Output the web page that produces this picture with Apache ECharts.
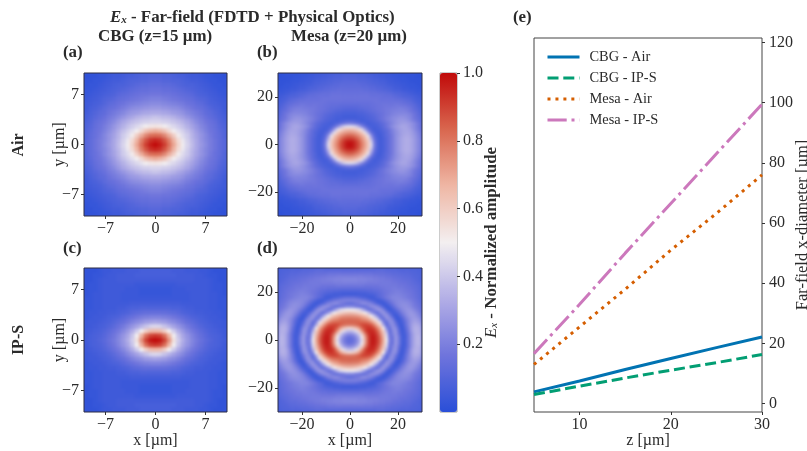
<!DOCTYPE html>
<html>
<head>
<meta charset="utf-8">
<script src="https://cdn.jsdelivr.net/npm/echarts@6/dist/echarts.min.js"></script>
<style>
html,body{margin:0;padding:0;background:#fff}
#c{width:807px;height:451px}
/* the heatmap layer (zlevel 0) is softened, like an image shown with smooth interpolation, and trimmed to the four panels */
#c canvas[data-zr-dom-id="zr_0"]{
  background:#3a58d6;
  filter:blur(1.7px);
  clip-path:path('M84 73H227V216H84Z M278 73H422V216H278Z M84 268H227V412H84Z M278 268H422V412H278Z');
}
</style>
</head>
<body>
<div id="c"></div>
<script>
// Amplitude in percent, one quadrant (row = outward in y, column = outward in x).
const panelA = [
[100,97,91,81,70,58,49,43,37,31,27,23,19,16,13,11],
[95,93,87,78,67,56,48,42,36,31,26,22,19,16,13,11],
[83,82,77,69,60,51,45,41,35,30,26,22,18,15,13,10],
[69,67,63,56,50,46,42,38,33,28,24,20,17,15,12,10],
[53,52,50,47,44,41,38,34,30,26,22,19,16,14,11,9],
[43,43,42,41,39,37,34,31,27,23,20,17,15,13,10,8],
[39,38,37,36,34,31,29,26,23,20,18,15,13,11,9,7],
[32,32,31,30,28,27,25,22,20,18,16,13,12,10,8,6],
[27,27,26,25,24,23,21,19,17,15,14,12,10,8,7,5],
[23,23,22,21,20,19,18,16,15,13,12,10,8,7,6,5],
[20,20,19,18,17,16,15,14,13,11,10,9,7,6,5,4],
[17,17,16,16,15,14,13,12,11,9,8,7,6,5,4,3],
[15,15,14,14,13,12,11,10,9,8,7,6,5,4,3,3],
[13,13,12,12,11,10,9,8,8,7,6,5,4,3,3,2],
[11,11,10,10,9,9,8,7,6,6,5,4,3,3,2,2],
[10,10,9,9,8,7,7,6,5,5,4,3,3,2,2,1]];
const panelB = [
[100,98,93,87,79,71,62,45,20,9,6,8,11,15,19,24,28,31,33,33,31,28,24,20],
[98,97,92,86,77,70,61,42,18,9,6,8,11,15,19,24,28,31,33,33,31,28,24,20],
[91,90,87,81,74,67,57,34,15,8,6,8,11,15,19,24,28,31,33,33,31,28,24,20],
[84,83,79,75,69,62,47,25,11,7,6,9,12,15,19,24,27,30,32,32,30,27,23,19],
[74,73,71,67,61,47,30,14,9,6,7,9,12,16,20,24,27,30,31,31,29,26,22,18],
[65,64,61,56,45,29,15,9,6,7,8,11,13,17,21,25,28,30,31,30,28,24,20,16],
[47,46,42,33,22,14,9,7,7,8,10,12,16,20,24,27,29,31,31,29,26,23,19,15],
[20,19,16,13,10,8,6,7,8,9,11,13,16,19,22,25,27,29,29,28,26,23,19,15],
[9,9,8,7,6,7,8,9,10,12,14,16,19,21,23,25,27,27,27,25,22,19,16,13],
[6,6,6,7,7,8,9,10,11,13,15,17,19,21,23,24,25,26,25,23,21,17,15,12],
[7,7,7,8,8,9,10,11,12,14,15,16,18,19,21,22,23,23,23,22,20,17,14,11],
[9,9,9,10,10,11,12,13,14,15,16,17,18,19,20,21,21,21,21,19,17,15,13,10],
[11,11,11,12,12,13,13,14,15,16,16,17,18,18,19,19,20,20,19,18,16,13,11,9],
[13,13,13,13,14,14,14,15,15,16,16,17,17,17,17,18,18,17,17,15,14,12,10,8],
[15,15,15,15,15,15,15,15,16,16,16,16,16,16,16,16,16,15,14,13,12,10,8,7],
[16,16,16,16,16,16,16,16,16,16,15,15,15,15,15,14,14,13,12,11,10,8,7,6],
[16,16,16,16,16,16,16,15,15,15,15,14,14,14,13,12,11,10,9,9,8,7,6,5],
[15,15,15,15,15,15,15,14,14,14,13,13,12,12,11,10,10,9,8,7,6,5,4,4],
[14,14,14,14,14,13,13,12,12,11,11,10,10,9,8,7,7,6,5,5,4,4,3,3],
[13,13,13,13,12,12,12,11,11,10,10,9,8,8,7,6,6,5,4,4,3,3,3,2],
[12,12,12,12,11,11,10,10,9,9,8,8,7,6,6,5,5,4,4,3,3,3,2,2],
[11,11,11,10,10,10,9,9,8,8,7,7,6,5,5,4,4,3,3,3,2,2,2,2],
[10,10,10,9,9,9,8,8,7,7,6,6,5,5,4,4,3,3,3,2,2,2,2,1],
[9,9,9,8,8,8,7,7,6,6,5,5,4,4,3,3,3,2,2,2,2,2,1,1]];
const panelC = [
[100,98,90,74,54,41,33,27,22,18,15,12,10,8,7,6],
[92,90,82,67,50,39,31,26,21,17,14,11,9,8,7,5],
[66,65,59,50,41,33,27,22,18,15,12,10,8,7,6,5],
[44,43,39,35,30,26,22,18,15,12,10,8,7,6,5,4],
[30,29,28,25,23,20,17,14,12,10,8,7,6,5,5,4],
[21,21,20,19,17,15,13,11,9,8,7,6,5,5,4,3],
[14,14,14,13,12,11,9,8,7,6,6,5,5,4,4,3],
[9,9,9,9,8,8,7,6,6,5,5,5,4,4,3,3],
[6,6,6,6,6,6,5,5,5,5,5,5,4,4,3,3],
[4,4,4,4,4,4,4,4,5,5,5,5,4,4,3,3],
[3,3,3,3,4,4,4,4,5,5,5,5,4,4,3,2],
[3,3,3,3,4,4,4,5,5,5,5,5,4,3,3,2],
[4,4,4,4,4,5,5,5,5,5,5,5,4,3,3,2],
[6,6,6,6,6,6,6,6,6,5,5,5,4,3,2,2],
[7,7,7,7,7,6,6,6,6,5,5,4,3,3,2,2],
[7,7,7,7,6,6,6,5,5,5,4,4,3,2,2,2]];
const panelD = [
[13,15,20,30,46,68,88,97,97,92,82,68,50,20,16,28,20,7,7,15,24,32,36,34],
[15,17,23,33,50,70,88,97,97,91,81,66,47,18,16,28,20,7,6,15,24,32,36,34],
[23,25,31,42,58,77,91,96,95,89,77,63,43,15,20,27,17,6,7,15,24,32,35,33],
[37,39,46,58,73,88,94,95,93,85,73,59,34,12,22,27,14,5,8,17,26,33,34,32],
[56,59,64,72,84,90,93,92,88,78,67,50,22,14,25,24,11,4,10,18,27,33,34,31],
[80,80,82,85,89,90,89,87,78,67,56,32,11,20,25,18,7,5,12,20,27,32,32,29],
[84,84,84,84,83,82,80,74,66,56,44,18,13,24,24,13,5,7,13,21,26,30,29,26],
[82,81,81,80,76,74,70,62,53,42,20,13,24,25,19,6,4,9,16,22,26,28,27,23],
[74,74,73,71,68,64,58,50,38,22,13,22,27,20,9,4,8,14,20,25,27,27,24,20],
[63,62,60,57,55,50,40,26,17,13,22,27,20,11,6,7,12,19,23,26,27,25,22,18],
[50,50,48,44,36,24,14,14,20,26,27,20,9,4,7,12,18,22,25,26,25,22,19,16],
[22,22,18,16,13,14,19,24,25,23,16,8,4,7,12,18,22,24,25,24,22,19,17,15],
[13,14,17,19,23,24,22,21,15,9,6,4,7,12,17,21,23,24,24,23,21,18,16,14],
[21,21,21,20,19,17,14,10,7,5,6,9,13,17,20,22,23,23,22,21,19,17,15,13],
[14,14,13,11,9,8,6,5,6,10,12,15,18,20,22,22,22,21,20,18,17,16,14,12],
[5,5,5,6,6,6,7,8,9,11,13,15,17,19,20,21,21,20,19,18,17,15,14,12],
[9,9,9,9,10,10,11,11,12,13,14,16,17,18,19,20,20,19,18,17,16,15,13,12],
[14,14,14,14,14,14,14,14,15,15,16,17,18,18,19,19,18,18,17,16,15,14,13,11],
[18,18,18,18,18,17,17,17,17,17,18,18,18,18,18,18,17,17,16,15,14,13,12,11],
[21,21,21,20,20,20,19,19,19,19,18,18,18,18,17,17,16,15,15,14,13,12,11,10],
[22,22,22,21,21,21,20,20,19,19,18,18,17,17,16,15,15,14,13,13,12,11,10,9],
[19,19,19,19,19,18,18,18,17,17,16,16,15,15,14,14,13,13,12,12,11,10,10,9],
[15,15,15,15,15,15,15,15,14,14,14,14,13,13,12,12,12,11,11,11,10,10,9,9],
[11,11,11,11,11,11,11,11,11,12,12,12,11,11,11,11,10,10,10,10,9,9,9,8]];

// Far-field x-diameter against z
const zValues = [5,10,15,20,25,30];
const cbgAir  = [3.9,7.5,11.3,15,18.6,22.1];
const cbgIps  = [3,5.8,8.5,11.1,13.6,16.3];
const mesaAir = [13,25.5,38,51,63.2,76];
const mesaIps = [16.6,33,50,66.5,83,99.5];

const seriesNames = ['CBG - Air','CBG - IP-S','Mesa - Air','Mesa - IP-S'];
const seriesColors = ['#0173b2','#029e73','#d55e00','#cc78bc'];
const seriesDash = ['solid',[11,4.8],[3,4.95],[19.2,4.8,3,4.8]];
const lineValues = [cbgAir,cbgIps,mesaAir,mesaIps];

const ticksCbg = [-7,0,7];
const ticksMesa = [-20,0,20];
const ticksColorbar = [0.2,0.4,0.6,0.8,1.0];
const ticksZ = [10,20,30];
const ticksDiameter = [0,20,40,60,80,100,120];

const coolwarm = ['#2a4fd8','#6f74dc','#b2aee6','#f3eff0','#efb7a5','#d9674f','#c00a0a'];

const FONT = 'Liberation Serif';
const INK = '#2b2b2b';
const SIZE = 16;
const HEAD = 16.9;

function mirrored(q){
  const n = q.length, out = [];
  for(let r=-(n-1); r<=n-1; r++){
    for(let c=-(n-1); c<=n-1; c++){
      out.push([c+n-1, r+n-1, q[Math.abs(r)][Math.abs(c)]/100]);
    }
  }
  return out;
}
const signed = v => v<0 ? '\u2212'+Math.abs(v) : String(v);

const panels = [
  {q:panelA,left:84, top:73, w:143,h:143,range:10,ticks:ticksCbg, xName:'',       yName:'y [\u00b5m]'},
  {q:panelB,left:278,top:73, w:144,h:143,range:30,ticks:ticksMesa,xName:'',       yName:''},
  {q:panelC,left:84, top:268,w:143,h:144,range:10,ticks:ticksCbg, xName:'x [\u00b5m]',yName:'y [\u00b5m]'},
  {q:panelD,left:278,top:268,w:144,h:144,range:30,ticks:ticksMesa,xName:'x [\u00b5m]',yName:''}
];

const grids=[], xAxes=[], yAxes=[], series=[];
function tickAxis(base,min,max,ticks,fmt,margin){
  return Object.assign({
    type:'value',min,max,zlevel:1,splitLine:{show:false},
    axisLine:{show:false,onZero:false},
    axisTick:{show:true,length:3,customValues:ticks,lineStyle:{color:'#333',width:1}},
    axisLabel:{show:true,customValues:ticks,formatter:fmt||signed,color:INK,fontFamily:FONT,fontSize:SIZE,margin:margin||5},
    nameLocation:'middle',nameMoveOverlap:false,nameTextStyle:{color:INK,fontFamily:FONT,fontSize:SIZE}
  },base);
}
panels.forEach((p,i)=>{
  grids.push({left:p.left,top:p.top,width:p.w,height:p.h,show:true,zlevel:1,outerBoundsMode:'none',backgroundColor:'transparent',borderColor:'#2c2c44',borderWidth:1});
  const n = p.q.length*2-1;
  const cats = Array.from({length:n},(_,k)=>k);
  xAxes.push({type:'category',gridIndex:i,data:cats,show:false});
  yAxes.push({type:'category',gridIndex:i,data:cats,show:false});
  xAxes.push(tickAxis({gridIndex:i,position:'bottom',name:p.xName,nameGap:21},-p.range,p.range,p.ticks));
  yAxes.push(tickAxis({gridIndex:i,position:'left',name:p.yName,nameGap:16,nameRotate:90},-p.range,p.range,p.ticks));
  series.push({type:'heatmap',name:'panel'+i,xAxisIndex:2*i,yAxisIndex:2*i,data:mirrored(p.q),zlevel:0,progressive:0,itemStyle:{borderWidth:0},emphasis:{disabled:true}});
});

// colourbar axis
grids.push({left:440,top:73,width:17,height:339,show:true,zlevel:1,outerBoundsMode:'none',backgroundColor:'transparent',borderColor:'#999',borderWidth:1});
xAxes.push({type:'value',gridIndex:4,min:0,max:1,show:false});
yAxes.push(tickAxis({gridIndex:4,position:'right',
  name:'{i|E}{s|x}{b| - Normalized amplitude}',nameGap:26,nameRotate:90,
  nameTextStyle:{rich:{
    i:{fontFamily:FONT,fontStyle:'italic',fontSize:HEAD,color:INK},
    s:{fontFamily:FONT,fontStyle:'italic',fontSize:11,color:INK,verticalAlign:'bottom',padding:[6,0,0,0]},
    b:{fontFamily:FONT,fontWeight:'bold',fontSize:HEAD,color:INK}}}
},0,1,ticksColorbar,v=>v.toFixed(1),6));

// line panel
grids.push({left:534,top:38,width:228,height:374,show:true,zlevel:1,outerBoundsMode:'none',backgroundColor:'transparent',borderColor:'#444',borderWidth:1});
xAxes.push(tickAxis({gridIndex:5,position:'bottom',name:'z [\u00b5m]',nameGap:21},5,30,ticksZ));
yAxes.push(tickAxis({gridIndex:5,position:'right',name:'Far-field x-diameter [\u00b5m]',nameGap:32,nameRotate:90,
  nameTextStyle:{color:INK,fontFamily:FONT,fontSize:16.5}},-2.8,121.5,ticksDiameter,null,7));
lineValues.forEach((vals,k)=>{
  series.push({type:'line',name:seriesNames[k],xAxisIndex:xAxes.length-1,yAxisIndex:yAxes.length-1,zlevel:1,
    data:vals.map((v,j)=>[zValues[j],v]),showSymbol:false,symbol:'none',
    lineStyle:{color:seriesColors[k],width:3,type:seriesDash[k],cap:'butt'},itemStyle:{color:seriesColors[k]}});
});

function label(text,left,top,extra){
  return {text,left,top,padding:0,zlevel:1,textStyle:Object.assign({fontFamily:FONT,fontWeight:'bold',fontSize:HEAD,color:INK},extra||{})};
}
const titles=[
  {text:'{i|E}{s|x}{b| - Far-field (FDTD + Physical Optics)}',left:110,top:9,padding:0,zlevel:1,
    textStyle:{rich:{
      i:{fontFamily:FONT,fontStyle:'italic',fontSize:HEAD,color:INK},
      s:{fontFamily:FONT,fontStyle:'italic',fontSize:11,color:INK,verticalAlign:'bottom',padding:[6,0,0,0]},
      b:{fontFamily:FONT,fontWeight:'bold',fontSize:HEAD,color:INK}}}},
  label('CBG (z=15 \u00b5m)',98,28),
  label('Mesa (z=20 \u00b5m)',291,28),
  label('(a)',63,44),label('(b)',257,44),label('(c)',63,240),label('(d)',257,240),label('(e)',513,9)
];

const chart = echarts.init(document.getElementById('c'),null,{renderer:'canvas'});
chart.setOption({
  animation:false,
  title:titles,
  grid:grids,xAxis:xAxes,yAxis:yAxes,series,
  graphic:[
    {type:'text',zlevel:1,rotation:Math.PI/2,x:19,y:145,style:{text:'Air',font:'bold 16px "'+FONT+'"',fill:INK,textAlign:'center',textVerticalAlign:'middle'}},
    {type:'text',zlevel:1,rotation:Math.PI/2,x:19,y:340,style:{text:'IP-S',font:'bold 16px "'+FONT+'"',fill:INK,textAlign:'center',textVerticalAlign:'middle'}}
  ],
  legend:{data:seriesNames,left:546,top:50,padding:0,orient:'vertical',itemWidth:32,itemHeight:14,itemGap:7,zlevel:1,
    itemStyle:{opacity:0},lineStyle:{width:3,cap:'butt'},
    textStyle:{fontFamily:FONT,fontSize:14.4,color:INK,padding:[0,0,0,5]},selectedMode:false},
  visualMap:{type:'continuous',show:true,min:0,max:1,seriesIndex:[0,1,2,3],calculable:false,left:440,top:73,padding:0,itemWidth:17,itemHeight:339,zlevel:1,text:null,inRange:{color:coolwarm},hoverLink:false}
});
</script>
</body>
</html>
